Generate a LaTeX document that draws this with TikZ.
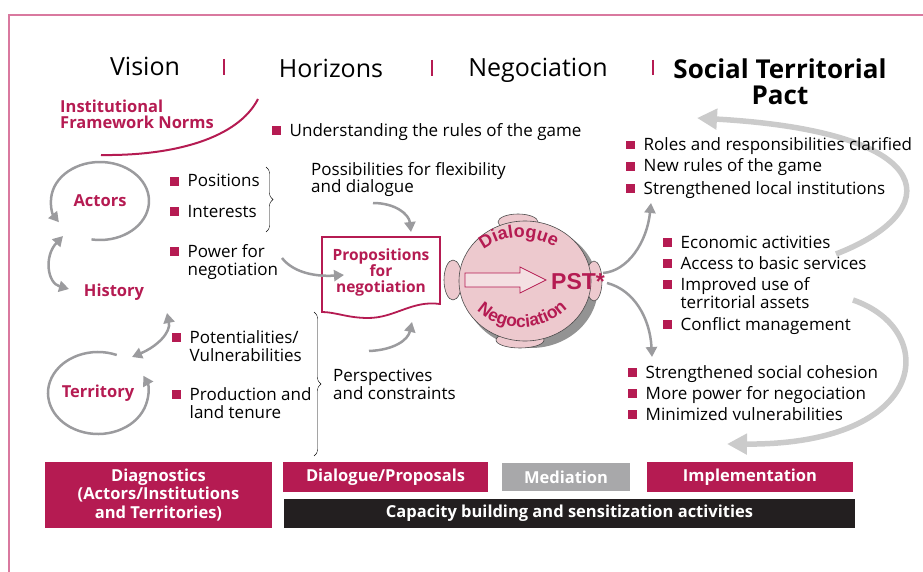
\documentclass[tikz,border=0pt]{standalone}
\usepackage{fontspec}
\setmainfont{Open Sans}
\newfontfamily\arcfont{Liberation Sans}
\usetikzlibrary{arrows.meta, decorations.pathreplacing, decorations.text}

\definecolor{crim}{HTML}{B51B52}
\definecolor{arrgray}{HTML}{9B9B9E}
\definecolor{loopgray}{HTML}{CBCBCB}
\definecolor{medgray}{HTML}{A8A8AA}
\definecolor{capblack}{HTML}{231F20}
\definecolor{headpink}{HTML}{EDC9CE}
\definecolor{framepink}{HTML}{D9799F}

\newcommand{\sq}{\textcolor{crim}{\rule[1.5pt]{9pt}{9pt}}\hspace{8.5pt}}
\newcommand{\ind}{\hspace{17.5pt}}

\begin{document}
\begin{tikzpicture}[x=1pt, y=-1pt,
    every node/.style={font=\fontsize{17}{17.5}\selectfont, inner sep=0pt},
    title/.style={anchor=base, font=\fontsize{25}{27}\selectfont},
    pact/.style={anchor=base, align=center, font=\fontsize{26}{26}\selectfont\bfseries},
    lbl/.style={text=crim, font=\fontsize{16.5}{16}\selectfont\bfseries},
    itm/.style={anchor=base west, align=left},
    bar/.style={draw=crim, line width=2pt},
    garr/.style={draw=arrgray, line width=2.5pt, -{Triangle[length=10pt, width=11pt]}},
    garrs/.style={draw=arrgray, line width=2.5pt, {Triangle[length=10pt, width=11pt]}-{Triangle[length=10pt, width=11pt]}},
    loop/.style={draw=loopgray, line width=5.5pt, -{Triangle[length=20pt, width=20pt]}},
    band/.style={text=white, align=center, font=\fontsize{16.5}{18.5}\selectfont\bfseries}
]
    \useasboundingbox (0, 0) rectangle (923, 572);
    \draw[framepink, line width=1.5pt] (923, 15) -- (9, 15) -- (9, 572);

    \node[title] (vis) at (145, 76) {Vision};
    \node[title] (hor) at (331, 78) {Horizons};
    \node[title] (neg) at (538, 77) {Negociation};
    \node[pact] (stp) at (780, 105) {Social Territorial\\Pact};
    \draw[bar] (224, 59) -- (224, 75);
    \draw[bar] (432, 60) -- (432, 76);
    \draw[bar] (653, 60) -- (653, 75);

    \node[lbl, anchor=base west, align=left] (inst) at (60, 129) {Institutional\\Framework Norms};
    \draw[crim, line width=2pt] (258, 99) .. controls (238, 138) and (175, 156) .. (101, 155);
    \node[itm] (rules) at (272, 137) {\sq Understanding the rules of the game};

    \node[lbl] (act) at (100, 201) {Actors};
    \node[lbl] (hist) at (114, 292) {History};
    \node[lbl] (terr) at (98, 393) {Territory};
    \draw[garr] (act.center) ++(100:49 and 39) arc[start angle=100, end angle=-213, x radius=49, y radius=39];
    \draw[garr] (terr.center) ++(-68:50 and 41) arc[start angle=-68, end angle=-385, x radius=50, y radius=41];
    \coordinate (ah) at (63, 236);
    \coordinate (ha) at (69, 289);
    \coordinate (ht) at (167, 313);
    \coordinate (th) at (132, 357);
    \draw[garrs] (ah) .. controls (44, 256) and (47, 283) .. (ha);
    \draw[garrs] (th) .. controls (158, 346) and (171, 332) .. (ht);

    \node[itm] (pos) at (170, 187) {\sq Positions};
    \node[itm] (int) at (170, 217) {\sq Interests};
    \draw[decorate, decoration={brace, amplitude=7pt}] (266, 167) -- (266, 232);
    \node[itm] (pow) at (170, 275) {\sq Power for\\\ind negotiation};
    \node[itm] (pot) at (172, 361) {\sq Potentialities/\\\ind Vulnerabilities};
    \node[itm] (prod) at (172, 418) {\sq Production and\\\ind land tenure};
    \draw[decorate, decoration={brace, amplitude=7pt}] (314, 312) -- (314, 456);

    \node[itm] (flex) at (311, 193) {Possibilities for flexibility\\and dialogue};
    \node[itm] (persp) at (333, 399) {Perspectives\\and constraints};

    \draw[crim, line width=1.8pt, fill=white] (322, 237) -- (440, 237) -- (440, 304)
        .. controls (412, 300) and (395, 318) .. (368, 318)
        .. controls (348, 318) and (335, 312) .. (322, 312) -- cycle;
    \node[lbl, align=center, font=\fontsize{15.5}{16}\selectfont\bfseries] (prop) at (381, 272) {Propositions\\for\\negotiation};
    \coordinate (pin) at (344, 275);
    \coordinate (fin) at (411, 232);
    \coordinate (cin) at (412, 322);
    \draw[garr] (282, 258) .. controls (292, 271) and (312, 277) .. (pin);
    \draw[garr] (373, 203) .. controls (395, 203) and (409, 214) .. (fin);
    \draw[garr] (369, 351) .. controls (394, 350) and (408, 340) .. (cin);

    \coordinate (hd) at (525, 281);
    \fill[gray!85] ([shift={(6, 6)}]hd) ellipse[x radius=67, y radius=61];
    \foreach \ex/\ey/\rx/\ry in {518/222/20/8, 520/340/24/8, 453/280/9/20, 594/281/8/20}
        \draw[black!70, fill=headpink, line width=0.6pt] (\ex, \ey) ellipse[x radius=\rx, y radius=\ry];
    \draw[black!70, fill=headpink, line width=0.6pt] (hd) ellipse[x radius=66, y radius=60];
    \path[decorate, decoration={text along path, text align=center, text color=crim,
        text={|\arcfont\fontsize{18}{18}\selectfont\bfseries|Dialogue}}]
        (472, 262) .. controls (494, 230) and (542, 230) .. (568, 258);
    \path[decorate, decoration={text along path, text align=center, text color=crim,
        text={|\arcfont\fontsize{17.5}{18}\selectfont\bfseries|Negociation}}]
        (468, 300) .. controls (494, 337) and (549, 337) .. (576, 298);
    \draw[crim, fill=headpink!60, line width=0.7pt] (465, 273) -- (520, 273) -- (520, 267) -- (546, 280)
        -- (520, 293) -- (520, 287) -- (465, 287) -- cycle;
    \node[text=crim, font=\arcfont\fontsize{23}{23}\selectfont\bfseries] (pst) at (578, 282) {PST*};

    \coordinate (up) at (651, 203);
    \coordinate (dn) at (652, 357);
    \draw[garr] (603, 273) .. controls (628, 271) and (647, 242) .. (up);
    \draw[garr] (607, 283) .. controls (634, 290) and (650, 318) .. (dn);

    \coordinate (lp1) at (697, 118);
    \coordinate (lp2) at (727, 444);
    \draw[loop] (836, 254) .. controls (945, 212) and (945, 132) .. (lp1);
    \draw[loop] (853, 300) .. controls (940, 330) and (930, 445) .. (lp2);

    \node[itm] (rol) at (626, 151) {\sq Roles and responsibilities clarified};
    \node[itm] (nrg) at (626, 172) {\sq New rules of the game};
    \node[itm] (sli) at (626, 194) {\sq Strengthened local institutions};
    \node[itm] (eco) at (663, 248) {\sq Economic activities};
    \node[itm] (acc) at (663, 269) {\sq Access to basic services};
    \node[itm] (imp) at (663, 308) {\sq Improved use of\\\ind territorial assets};
    \node[itm] (con) at (663, 330) {\sq Conflict management};
    \node[itm] (ssc) at (628, 378) {\sq Strengthened social cohesion};
    \node[itm] (mpn) at (628, 399) {\sq More power for negociation};
    \node[itm] (miv) at (628, 420) {\sq Minimized vulnerabilities};

    \node[band, fill=crim, minimum width=227, minimum height=66] (diag) at (158.5, 495) {Diagnostics\\(Actors/Institutions\\and Territories)};
    \node[band, fill=crim, minimum width=205, minimum height=30] (dlg) at (385.5, 477) {Dialogue/Proposals};
    \node[band, fill=medgray, minimum width=128, minimum height=28] (med) at (566, 477) {Mediation};
    \node[band, fill=crim, minimum width=206, minimum height=30] (impl) at (750, 477) {Implementation};
    \node[band, fill=capblack, minimum width=571, minimum height=29] (cap) at (569.5, 513.5) {Capacity building and sensitization activities};
\end{tikzpicture}
\end{document}
